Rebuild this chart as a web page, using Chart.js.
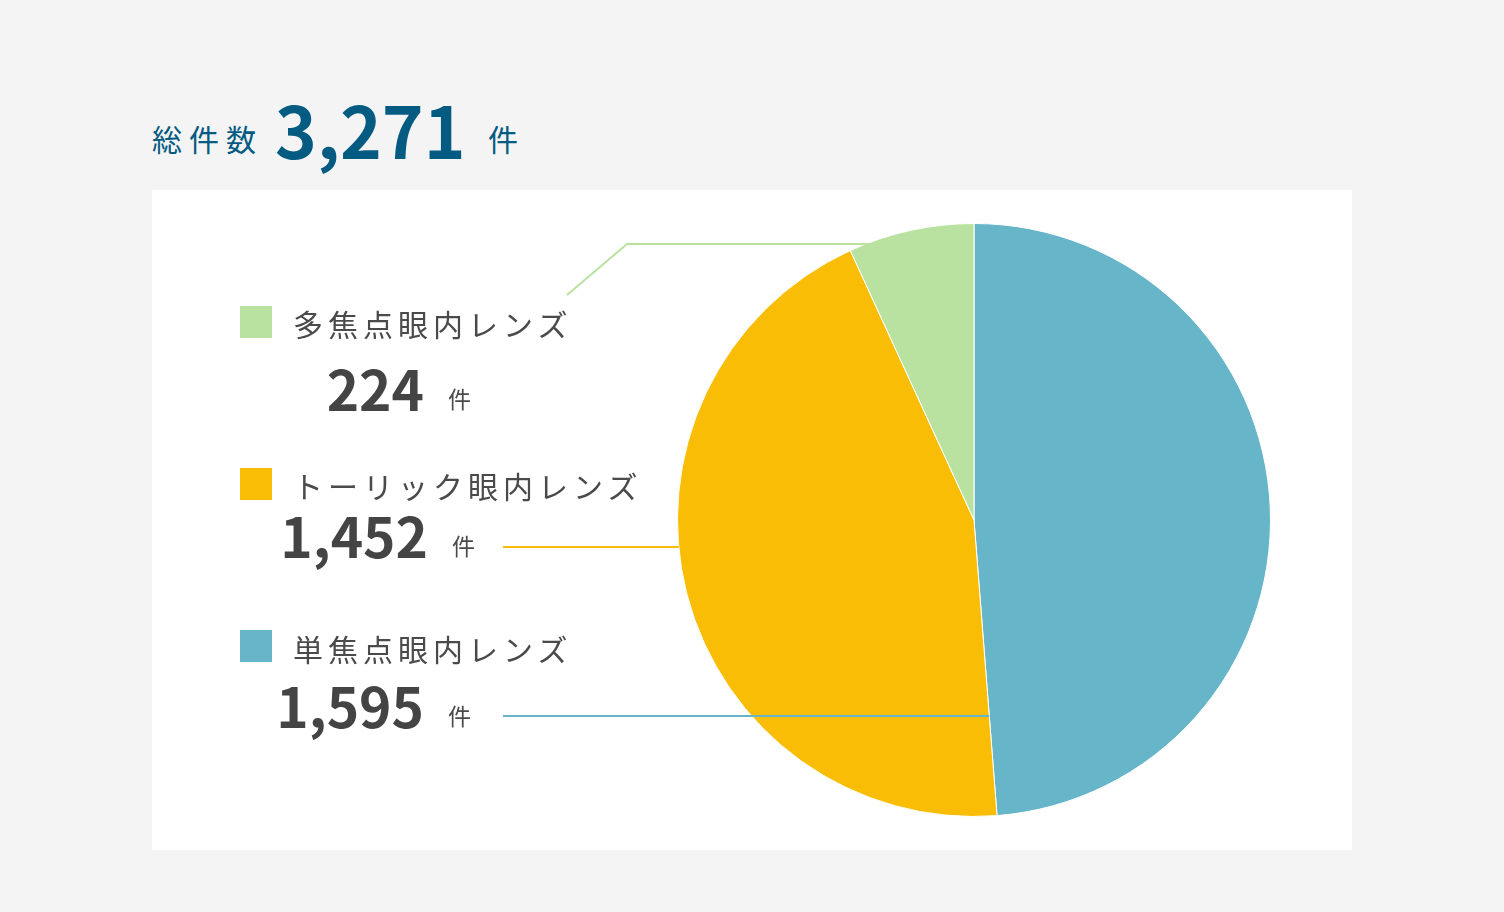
<!DOCTYPE html>
<html lang="ja">
<head>
  <meta charset="UTF-8">
  <title>眼内レンズ 件数</title>
  <script src="https://cdn.jsdelivr.net/npm/chart.js"></script>
  <style>
    html, body {
      margin: 0;
      padding: 0;
      background: #f4f4f4;
      width: 1504px;
      height: 912px;
      overflow: hidden;
      font-family: "Noto Sans CJK JP", "Noto Sans", sans-serif;
    }
    .abs { position: absolute; line-height: 1; white-space: nowrap; }
    .title { color: #045b82; }
    .label { font-size: 30px; letter-spacing: 5px; color: #4a4a4a; }
    .num { font-size: 55px; font-weight: 700; color: #444; text-align: right; }
    .unit { font-size: 23px; color: #4a4a4a; }
    .swatch { position: absolute; width: 32px; height: 32px; }
    /* white panel holding the pie */
    #panel {
      position: absolute;
      left: 152px; top: 190px;
      width: 1200px; height: 660px;
      background: #fff;
    }
  </style>
</head>
<body>
  <!-- total -->
  <div class="abs title" style="left:152px; top:123px; font-size:30px; letter-spacing:7px;">総件数</div>
  <div class="abs title" id="total" style="left:275px; top:93px; font-size:71px; font-weight:700;"></div>
  <div class="abs title" style="left:488px; top:123px; font-size:30px;">件</div>

  <div id="panel">
    <canvas id="pieChart"></canvas>
  </div>

  <!-- legend (filled from the arrays below) -->
  <div id="legend"></div>

  <script>
    // data, in drawing order (clockwise from 12 o'clock)
    const labels = ['単焦点眼内レンズ', 'トーリック眼内レンズ', '多焦点眼内レンズ'];
    const counts = [1595, 1452, 224];
    const colors = ['#67b5c9', '#f9bd06', '#b9e2a0'];

    const fmt = n => n.toLocaleString('en-US');
    document.getElementById('total').textContent = fmt(counts.reduce((a, b) => a + b, 0));

    // legend rows: swatch top, label top, number top, number right edge (page px)
    const rows = [
      { i: 2, sw: 306, lab: 308, num: 360, right: 424 },
      { i: 1, sw: 468, lab: 470, num: 507, right: 428 },
      { i: 0, sw: 630, lab: 633, num: 677, right: 424 }
    ];
    const legend = document.getElementById('legend');
    rows.forEach(r => {
      legend.insertAdjacentHTML('beforeend',
        '<div class="swatch" style="left:240px; top:' + r.sw + 'px; background:' + colors[r.i] + '"></div>' +
        '<div class="abs label" style="left:293px; top:' + r.lab + 'px;">' + labels[r.i] + '</div>' +
        '<div class="abs num" style="right:' + (1504 - r.right) + 'px; top:' + r.num + 'px;">' + fmt(counts[r.i]) + '</div>' +
        '<div class="abs unit" style="left:' + (r.right + 24) + 'px; top:' + (r.num + 27) + 'px;">件</div>');
    });

    // leader lines from the legend to the slices
    const leaderPlugin = {
      id: 'leaders',
      afterDatasetsDraw(chart) {
        const arcs = chart.getDatasetMeta(0).data;
        const ctx = chart.ctx;
        const cx = arcs[0].x, cy = arcs[0].y, r = arcs[0].outerRadius;
        const leftEdge = y => cx - Math.sqrt(r * r - (y - cy) * (y - cy));

        ctx.save();
        ctx.lineWidth = 2;

        // 単焦点: to the boundary with トーリック
        const a = arcs[0].endAngle;
        const yBlue = 526;
        ctx.strokeStyle = colors[0];
        ctx.beginPath();
        ctx.moveTo(351, yBlue);
        ctx.lineTo(cx + (yBlue - cy) / Math.sin(a) * Math.cos(a), yBlue);
        ctx.stroke();

        // トーリック: to the left rim
        const yYel = 357;
        ctx.strokeStyle = colors[1];
        ctx.beginPath();
        ctx.moveTo(351, yYel);
        ctx.lineTo(leftEdge(yYel), yYel);
        ctx.stroke();

        // 多焦点: elbow up to the top of the slice
        const yGrn = 54;
        ctx.strokeStyle = colors[2];
        ctx.beginPath();
        ctx.moveTo(415, 105);
        ctx.lineTo(475, yGrn);
        ctx.lineTo(leftEdge(yGrn) + 4, yGrn);
        ctx.stroke();
        ctx.restore();
      }
    };

    const ctx = document.getElementById('pieChart').getContext('2d');
    new Chart(ctx, {
      type: 'pie',
      data: {
        labels: labels,
        datasets: [{
          data: counts,
          backgroundColor: colors,
          borderColor: '#fff',
          borderWidth: 1
        }]
      },
      options: {
        responsive: true,
        maintainAspectRatio: false,
        animation: false,
        layout: { padding: { left: 525, right: 81, top: 33, bottom: 33 } },
        plugins: {
          legend: { display: false },
          tooltip: { enabled: false }
        }
      },
      plugins: [leaderPlugin]
    });
  </script>
</body>
</html>
